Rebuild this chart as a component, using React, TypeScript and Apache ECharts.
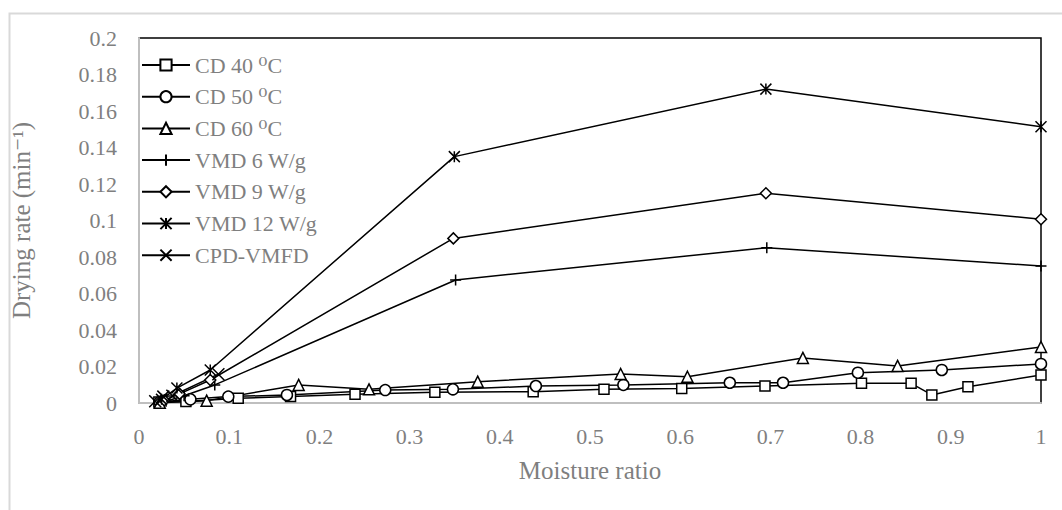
import React, { useEffect, useRef } from "react";
import * as echarts from "echarts";

const seriesNames = ["CD 40 ⁰C", "CD 50 ⁰C", "CD 60 ⁰C", "VMD 6 W/g", "VMD 9 W/g", "VMD 12 W/g", "CPD-VMFD"];

const cd40X = [0.022, 0.052, 0.11, 0.168, 0.2395, 0.328, 0.437, 0.5155, 0.6017, 0.694, 0.801, 0.856, 0.879, 0.919, 1.0];
const cd40Y = [0.0005, 0.0008, 0.0026, 0.0035, 0.0048, 0.0059, 0.0062, 0.0075, 0.008, 0.0093, 0.0108, 0.0108, 0.0044, 0.0089, 0.0153];

const cd50X = [0.023, 0.057, 0.099, 0.164, 0.273, 0.348, 0.44, 0.537, 0.655, 0.714, 0.797, 0.89, 1.0];
const cd50Y = [0.0005, 0.002, 0.0035, 0.0044, 0.0071, 0.0075, 0.0093, 0.0099, 0.0111, 0.0111, 0.0166, 0.0181, 0.0214];

const cd60X = [0.023, 0.075, 0.177, 0.255, 0.3755, 0.534, 0.608, 0.736, 0.841, 1.0];
const cd60Y = [0.0002, 0.0013, 0.0099, 0.0075, 0.0117, 0.0159, 0.0144, 0.0247, 0.0203, 0.0307];

const vmd6X = [0.03, 0.05, 0.084, 0.351, 0.696, 1.0];
const vmd6Y = [0.001, 0.004, 0.0099, 0.0674, 0.0851, 0.0751];

const vmd9X = [0.028, 0.045, 0.079, 0.3485, 0.695, 1.0];
const vmd9Y = [0.0015, 0.005, 0.0126, 0.0902, 0.1149, 0.1007];

const vmd12X = [0.025, 0.042, 0.079, 0.3496, 0.695, 1.0];
const vmd12Y = [0.002, 0.0082, 0.0181, 0.135, 0.172, 0.1514];

const cpdX = [0.018, 0.027, 0.037, 0.088];
const cpdY = [0.001, 0.0035, 0.004, 0.0158];

const xTicks = ["0", "0.1", "0.2", "0.3", "0.4", "0.5", "0.6", "0.7", "0.8", "0.9", "1"];
const yTicks = ["0", "0.02", "0.04", "0.06", "0.08", "0.1", "0.12", "0.14", "0.16", "0.18", "0.2"];

const allX = [cd40X, cd50X, cd60X, vmd6X, vmd9X, vmd12X, cpdX];
const allY = [cd40Y, cd50Y, cd60Y, vmd6Y, vmd9Y, vmd12Y, cpdY];

const symbols = [
  "rect",
  "circle",
  "triangle",
  "path://M5,0L5,10M0,5L10,5",
  "diamond",
  "path://M0,0L10,10M10,0L0,10M5,0L5,10",
  "path://M0,0L10,10M10,0L0,10",
];
const symbolSizes = [10, 11, 11, 11, 11, 11, 12];

const FONT = "'Liberation Serif', 'DejaVu Serif', serif";
const GRAY = "#7f7f7f";

export default function App() {
  const ref = useRef<HTMLDivElement>(null);
  useEffect(() => {
    if (!ref.current) return;
    const chart = echarts.init(ref.current, null, { renderer: "svg" });
    const series = seriesNames.map((name, i) => ({
      name,
      type: "line",
      data: allX[i].map((x, j) => [x, allY[i][j]]),
      symbol: symbols[i],
      symbolSize: symbolSizes[i],
      showAllSymbol: true,
      lineStyle: { color: "#000", width: 1.5 },
      itemStyle: { color: "#fff", borderColor: "#000", borderWidth: 1.5 },
      emphasis: { disabled: true },
    }));
    chart.setOption({
      animation: false,
      backgroundColor: "#fff",
      graphic: [
        {
          type: "rect",
          shape: { x: 9.5, y: 13.5, width: 1100, height: 600 },
          style: { fill: "none", stroke: "#d9d9d9", lineWidth: 2 },
          silent: true,
        },
      ],
      grid: {
        left: 139,
        top: 38,
        right: 21,
        bottom: 107,
        show: true,
        borderColor: "#000",
        borderWidth: 1.5,
        backgroundColor: "transparent",
      },
      legend: {
        orient: "vertical",
        left: 141,
        top: 54,
        itemWidth: 48,
        itemHeight: 14,
        itemGap: 9.7,
        data: seriesNames,
        textStyle: { color: GRAY, fontFamily: FONT, fontSize: 22, lineHeight: 22 },
        backgroundColor: "#fff",
        padding: 0,
      },
      xAxis: {
        type: "value",
        min: 0,
        max: 1,
        interval: 0.1,
        name: "Moisture ratio",
        nameLocation: "middle",
        nameGap: 55,
        nameTextStyle: { color: GRAY, fontFamily: FONT, fontSize: 25 },
        axisLine: { show: true, lineStyle: { color: "#bfbfbf", width: 2 } },
        axisTick: { show: false },
        splitLine: { show: false },
        axisLabel: {
          color: GRAY,
          fontFamily: FONT,
          fontSize: 22,
          margin: 22,
          formatter: (v: number) => xTicks[Math.round(v * 10)],
        },
      },
      yAxis: {
        type: "value",
        min: 0,
        max: 0.2,
        interval: 0.02,
        name: "Drying rate (min⁻¹)",
        nameLocation: "middle",
        nameGap: 105,
        nameTextStyle: { color: GRAY, fontFamily: FONT, fontSize: 25 },
        axisLine: { show: true, lineStyle: { color: "#bfbfbf", width: 2 } },
        axisTick: { show: false },
        splitLine: { show: false },
        axisLabel: {
          color: GRAY,
          fontFamily: FONT,
          fontSize: 22,
          margin: 22,
          formatter: (v: number) => yTicks[Math.round(v * 50)],
        },
      },
      series,
    });
    return () => chart.dispose();
  }, []);
  return (
    <div
      ref={ref}
      style={{ position: "absolute", left: 0, top: 0, width: 1062, height: 510 }}
    />
  );
}
